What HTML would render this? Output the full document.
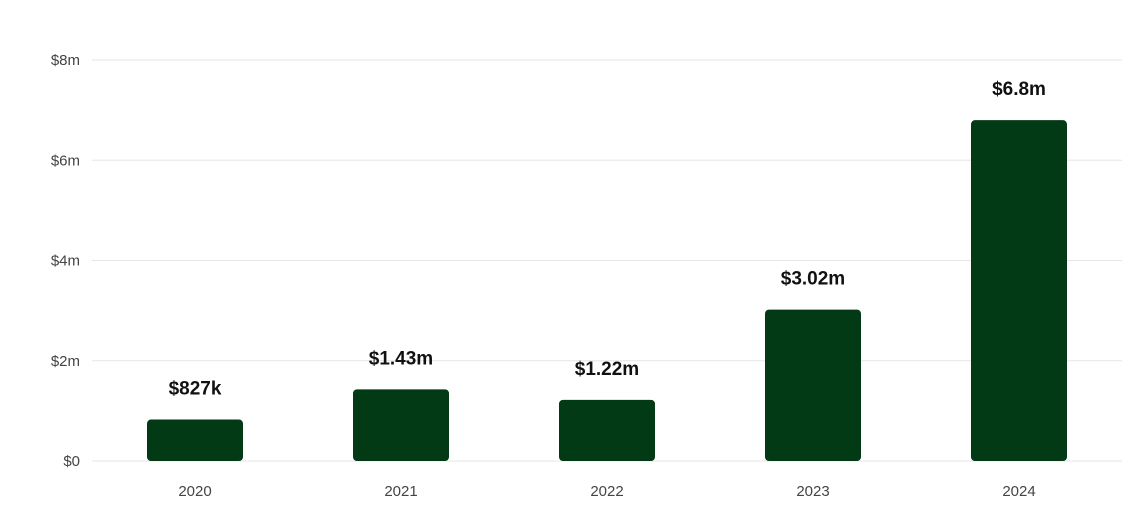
<!DOCTYPE html>
<html><head><meta charset="utf-8"><style>
html,body{margin:0;padding:0;background:#fff;}
svg{display:block;font-family:"Liberation Sans",sans-serif;}
</style></head><body>
<svg id="chart" width="1148" height="511" viewBox="0 0 1148 511"></svg>
<script>
const categories = ["2020","2021","2022","2023","2024"];
const values = [0.827, 1.43, 1.22, 3.02, 6.8];
const valueLabels = ["$827k","$1.43m","$1.22m","$3.02m","$6.8m"];
const yTicks = [0,2,4,6,8];
const yTickLabels = ["$0","$2m","$4m","$6m","$8m"];

const svg = document.getElementById('chart');
const NS = "http://www.w3.org/2000/svg";
const x0 = 92, x1 = 1122, yBase = 461, yTop = 60, yMax = 8;
const band = (x1 - x0) / categories.length;
const barW = 96;
const yScale = v => yBase - (v / yMax) * (yBase - yTop);
const xCenter = i => x0 + band * (i + 0.5);
function mk(tag, attrs, text){
  const e = document.createElementNS(NS, tag);
  for (const k in attrs) e.setAttribute(k, attrs[k]);
  if (text !== undefined) e.textContent = text;
  svg.appendChild(e);
  return e;
}
yTicks.forEach((t, i) => {
  const y = yScale(t);
  const g = mk('line', {x1: x0, x2: x1, y1: y, y2: y, stroke: '#e6e6e6', 'stroke-width': 1});
  
  
  const l = mk('text', {x: 80, y: y + 5, 'text-anchor': 'end', 'font-size': 15, fill: '#444'}, yTickLabels[i]);
  
  
});
categories.forEach((c, i) => {
  const cx = xCenter(i);
  const top = yScale(values[i]);
  const b = mk('rect', {x: cx - barW/2, y: top, width: barW, height: yBase - top, rx: 4, ry: 4, fill: '#033a16'});
  
  
  const v = mk('text', {x: cx, y: top - 25, 'text-anchor': 'middle', 'font-size': 19, 'font-weight': 'bold', fill: '#111'}, valueLabels[i]);
  
  
  const xl = mk('text', {x: cx, y: 496, 'text-anchor': 'middle', 'font-size': 15, fill: '#444'}, c);
  
  
});
</script>
</body></html>
